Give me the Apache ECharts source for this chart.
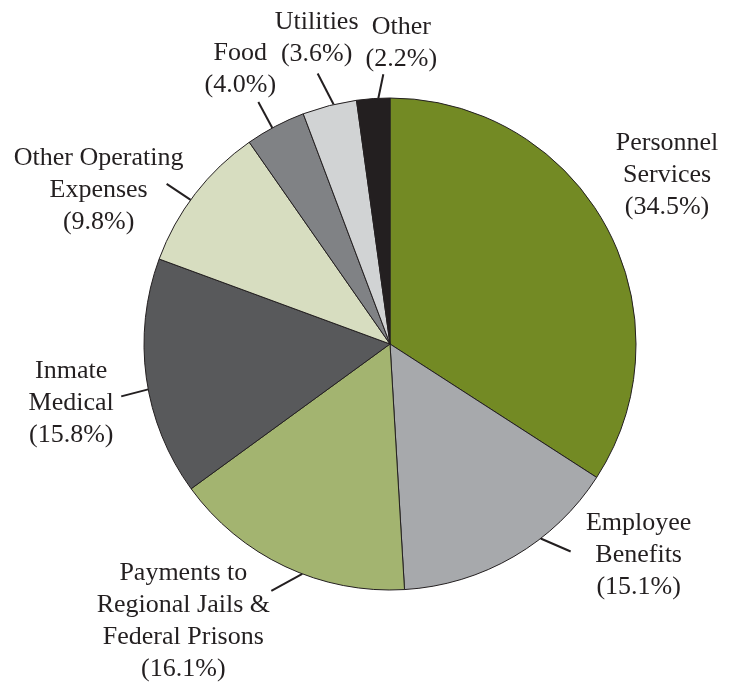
<!DOCTYPE html>
<html>
<head>
<meta charset="utf-8">
<script src="https://cdn.jsdelivr.net/npm/echarts@6/dist/echarts.min.js"></script>
<style>
  html, body { margin: 0; padding: 0; background: #fff; }
  #main { width: 733px; height: 683px; }
</style>
</head>
<body>
<div id="main"></div>
<script>
// data, clockwise from 12 o'clock
var categories = [
  'Personnel\nServices',
  'Employee\nBenefits',
  'Payments to\nRegional Jails &\nFederal Prisons',
  'Inmate\nMedical',
  'Other Operating\nExpenses',
  'Food',
  'Utilities',
  'Other'
];
var shares = [34.5, 15.1, 16.1, 15.8, 9.8, 4.0, 3.6, 2.2];
var sliceColors = ['#738a24', '#a7a9ac', '#a3b470', '#58595b', '#d7ddc0', '#808285', '#d1d3d4', '#231f20'];

// label placement (layout only)
var CX = 390, CY = 344, R = 246;
var labelShift = [0, -7.5, -4.4, -2.7, -1.8, -0.8, 1.0, 1.2];   // deg, move start of leader along the rim
var lineVec = [[0, 0], [30, 13], [-31, 17], [-27, 7], [-24, -16], [-14, -26], [-16, -31], [5, -24]];
var textOff = [[61, -51], [68, 4], [-88, 30], [-50, 7], [-68, 6], [-18, -33], [-1, -35], [18, -31]];

var chart = echarts.init(document.getElementById('main'));

var pieData = categories.map(function (name, i) {
  var item = { name: name, value: shares[i], itemStyle: { color: sliceColors[i] } };
  if (i === 0) {
    item.labelLine = { lineStyle: { color: 'rgba(0,0,0,0)' } };
  }
  return item;
});

chart.setOption({
  animation: false,
  series: [{
    type: 'pie',
    center: [CX, CY],
    radius: R,
    startAngle: 90,
    clockwise: true,
    avoidLabelOverlap: false,
    itemStyle: { borderColor: '#231f20', borderWidth: 1 },
    label: {
      show: true,
      position: 'outside',
      color: '#231f20',
      fontFamily: 'Liberation Serif',
      fontSize: 26,
      lineHeight: 32,
      formatter: function (p) {
        return p.name + '\n(' + p.value.toFixed(1) + '%)';
      }
    },
    labelLine: {
      show: true,
      length: 30,
      length2: 0,
      lineStyle: { color: '#231f20', width: 2 }
    },
    labelLayout: function (params) {
      var i = params.dataIndex;
      var pts = params.labelLinePoints;
      if (!pts) return {};
      var a = labelShift[i] * Math.PI / 180;
      var rx = pts[0][0] - CX, ry = pts[0][1] - CY;
      var sx = CX + rx * Math.cos(a) - ry * Math.sin(a);
      var sy = CY + rx * Math.sin(a) + ry * Math.cos(a);
      var ex = sx + lineVec[i][0], ey = sy + lineVec[i][1];
      return {
        x: ex + textOff[i][0],
        y: ey + textOff[i][1],
        align: 'center',
        verticalAlign: 'middle',
        labelLinePoints: [[sx, sy], [ex, ey], [ex, ey]]
      };
    },
    emphasis: { disabled: true },
    data: pieData
  }]
});
</script>
</body>
</html>
